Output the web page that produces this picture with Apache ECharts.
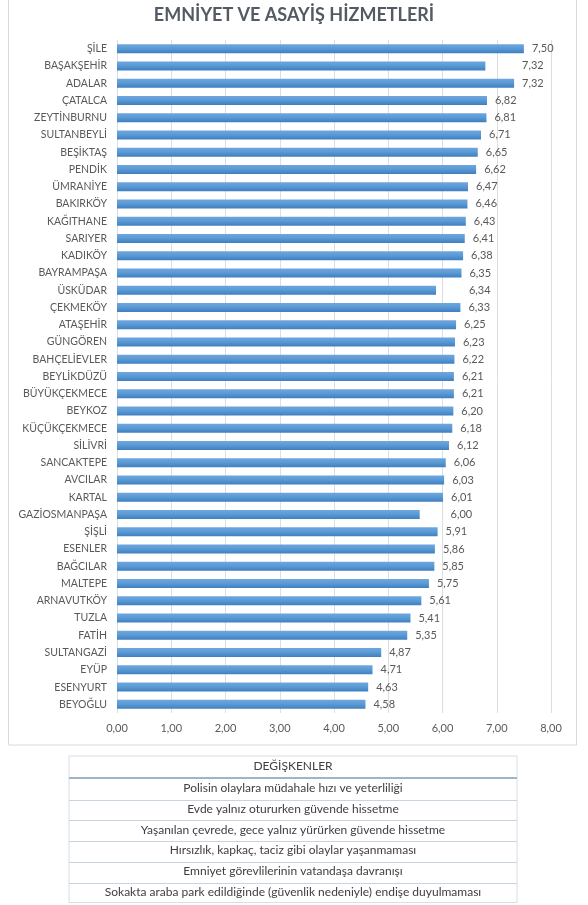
<!DOCTYPE html>
<html>
<head>
<meta charset="utf-8">
<script src="https://cdn.jsdelivr.net/npm/echarts@6/dist/echarts.min.js"></script>
<style>
  html, body { margin: 0; padding: 0; background: #fff; }
  #main { width: 588px; height: 905px; }
</style>
</head>
<body>
<div id="main"></div>
<script>
// ilçeler (yukarıdan aşağıya)
var districts = ['ŞİLE', 'BAŞAKŞEHİR', 'ADALAR', 'ÇATALCA', 'ZEYTİNBURNU', 'SULTANBEYLİ', 'BEŞİKTAŞ', 'PENDİK',
  'ÜMRANİYE', 'BAKIRKÖY', 'KAĞITHANE', 'SARIYER', 'KADIKÖY', 'BAYRAMPAŞA', 'ÜSKÜDAR', 'ÇEKMEKÖY', 'ATAŞEHİR',
  'GÜNGÖREN', 'BAHÇELİEVLER', 'BEYLİKDÜZÜ', 'BÜYÜKÇEKMECE', 'BEYKOZ', 'KÜÇÜKÇEKMECE', 'SİLİVRİ', 'SANCAKTEPE',
  'AVCILAR', 'KARTAL', 'GAZİOSMANPAŞA', 'ŞİŞLİ', 'ESENLER', 'BAĞCILAR', 'MALTEPE', 'ARNAVUTKÖY', 'TUZLA', 'FATİH',
  'SULTANGAZİ', 'EYÜP', 'ESENYURT', 'BEYOĞLU'];
// çubuk uzunlukları
var barValues = [7.50, 6.79, 7.32, 6.82, 6.81, 6.71, 6.65, 6.62, 6.47, 6.46, 6.43, 6.41, 6.38, 6.35, 5.88, 6.33, 6.25,
  6.23, 6.22, 6.21, 6.21, 6.20, 6.18, 6.12, 6.06, 6.03, 6.01, 5.58, 5.91, 5.86, 5.85, 5.75, 5.61, 5.41, 5.35,
  4.87, 4.71, 4.63, 4.58];
// etiket değerleri
var labelValues = [7.50, 7.32, 7.32, 6.82, 6.81, 6.71, 6.65, 6.62, 6.47, 6.46, 6.43, 6.41, 6.38, 6.35, 6.34, 6.33, 6.25,
  6.23, 6.22, 6.21, 6.21, 6.20, 6.18, 6.12, 6.06, 6.03, 6.01, 6.00, 5.91, 5.86, 5.85, 5.75, 5.61, 5.41, 5.35,
  4.87, 4.71, 4.63, 4.58];
var variables = ['Polisin olaylara müdahale hızı ve yeterliliği', 'Evde yalnız otururken güvende hissetme',
  'Yaşanılan çevrede, gece yalnız yürürken güvende hissetme', 'Hırsızlık, kapkaç, taciz gibi olaylar yaşanmaması',
  'Emniyet görevlilerinin vatandaşa davranışı', 'Sokakta araba park edildiğinde (güvenlik nedeniyle) endişe duyulmaması'];
var tableHeader = 'DEĞİŞKENLER';

function fmt(v) { return v.toFixed(2).replace('.', ','); }

var dom = document.getElementById('main');
var myChart = echarts.init(dom);
var font = 'Lato, "Open Sans", sans-serif';

// tablo
var tableGraphics = [];
var tL = 69, tR = 517, tTop = 756, hdrBottom = 778, rowH = 20.7;
tableGraphics.push({ type: 'rect', shape: { x: tL, y: tTop, width: tR - tL, height: 902.5 - tTop },
  style: { fill: '#fff', stroke: '#D6DEE6', lineWidth: 1 } });
tableGraphics.push({ type: 'text', x: (tL + tR) / 2, y: (tTop + hdrBottom) / 2 - 1,
  style: { text: tableHeader, fill: '#404040', font: '12px ' + font, textAlign: 'center', textVerticalAlign: 'middle' } });
tableGraphics.push({ type: 'line', shape: { x1: tL, y1: hdrBottom, x2: tR, y2: hdrBottom },
  style: { stroke: '#9FB4C8', lineWidth: 2 } });
variables.forEach(function(t, i) {
  var y0 = hdrBottom + 1 + i * rowH;
  tableGraphics.push({ type: 'text', x: (tL + tR) / 2, y: y0 + rowH / 2 - 1,
    style: { text: t, fill: '#404040', font: '12px ' + font, textAlign: 'center', textVerticalAlign: 'middle' } });
  if (i < variables.length - 1) {
    tableGraphics.push({ type: 'line', shape: { x1: tL, y1: Math.round(y0 + rowH) + 0.5, x2: tR, y2: Math.round(y0 + rowH) + 0.5 },
      style: { stroke: '#C8D4E0', lineWidth: 1 } });
  }
});

var option = {
  animation: false,
  title: {
    text: 'EMNİYET VE ASAYİŞ HİZMETLERİ',
    left: 'center',
    top: 1,
    textStyle: { fontFamily: font, fontWeight: 'bold', fontSize: 18, color: '#535A63' }
  },
  graphic: [{ type: 'rect', z: -10, shape: { x: 8.5, y: -2, width: 568, height: 747 },
    style: { fill: '#fff', stroke: '#D9D9D9', lineWidth: 1 } }].concat(tableGraphics),
  grid: { left: 117, right: 37, top: 40, bottom: 192 },
  xAxis: {
    type: 'value',
    min: 0, max: 8, interval: 1,
    axisLine: { show: false },
    axisTick: { show: false },
    splitLine: { lineStyle: { color: '#DEDEDE' } },
    axisLabel: { formatter: fmt, color: '#595959', fontFamily: font, fontSize: 11, margin: 10 }
  },
  yAxis: {
    type: 'category',
    inverse: true,
    data: districts,
    axisLine: { show: false },
    axisTick: { show: false },
    axisLabel: { color: '#595959', fontFamily: font, fontSize: 10.5, margin: 10 }
  },
  series: [{
    type: 'bar',
    data: barValues,
    barWidth: 9,
    itemStyle: {
      color: new echarts.graphic.LinearGradient(0, 0, 0, 1, [
        { offset: 0, color: '#6FA6DE' },
        { offset: 0.45, color: '#5B9BD5' },
        { offset: 1, color: '#3F7FC0' }
      ])
    }
  }, {
    type: 'bar',
    data: labelValues,
    barWidth: 9,
    barGap: '-100%',
    silent: true,
    itemStyle: { color: 'rgba(0,0,0,0)' },
    label: {
      show: true, position: 'right', distance: 8,
      formatter: function(p) { return fmt(p.value); },
      color: '#595959', fontFamily: font, fontSize: 11
    }
  }]
};
myChart.setOption(option, true);
</script>
</body>
</html>
